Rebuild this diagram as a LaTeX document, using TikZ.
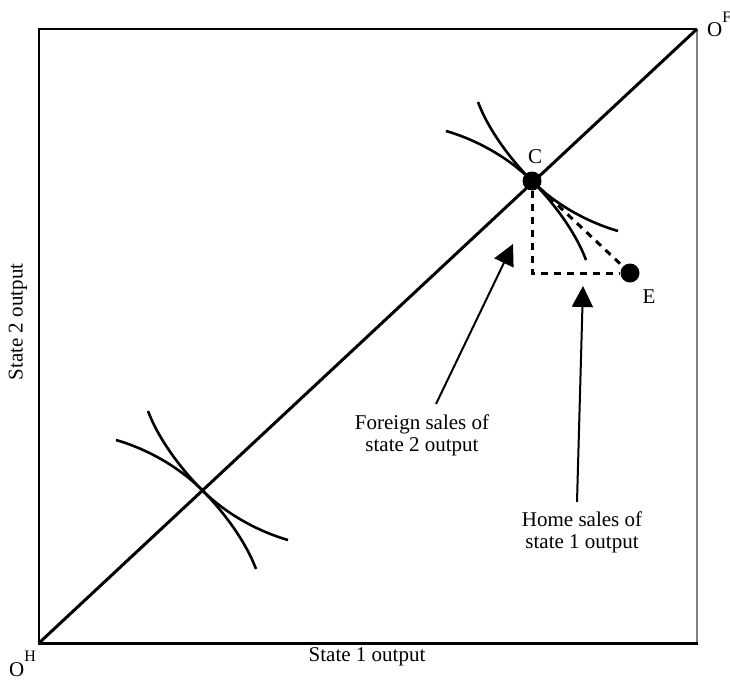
\documentclass[tikz,border=0pt]{standalone}
\usepackage{fontspec}
\setmainfont{Liberation Serif}
\usetikzlibrary{arrows.meta,calc}
\begin{document}
\begin{tikzpicture}[x=1pt,y=-1pt,
  txt/.style={inner sep=0pt,font=\fontsize{21}{22}\selectfont,align=center},
  dot/.style={circle,fill=black,inner sep=0pt,minimum size=19pt},
  curve/.style={line width=2.6pt},
  dashline/.style={line width=3pt,dash pattern=on 7pt off 6pt},
  pointer/.style={line width=2pt,-{Triangle[length=21pt,width=21pt]}}]
\useasboundingbox (0,0) rectangle (730,682);
% frame
\draw[line width=1.3pt] (39,643) -- (39,29) -- (697,29);
\draw[line width=1.5pt,gray] (697,29) -- (697,643);
\draw[line width=3pt] (38,643) -- (698,643);
% diagonal
\coordinate (OH) at (39,643);
\coordinate (OF) at (697,29);
\draw[line width=3pt] (OH) -- (OF);
% tangency points
\coordinate (L) at (202,490);
\coordinate (C0) at (532,181);
\foreach \p in {L,C0}{
  \draw[curve] ($(\p)+(-54,-79)$) .. controls ($(\p)+(-44,-52)$) and ($(\p)+(-22,-22)$) .. (\p)
     .. controls ($(\p)+(25,25)$) and ($(\p)+(58,42)$) .. ($(\p)+(86,50)$);
  \draw[curve] ($(\p)+(-86,-50)$) .. controls ($(\p)+(-58,-42)$) and ($(\p)+(-25,-25)$) .. (\p)
     .. controls ($(\p)+(22,22)$) and ($(\p)+(44,52)$) .. ($(\p)+(54,79)$);
}
% points C and E
\node[dot] (C) at (C0) {};
\node[dot] (E) at (630,273) {};
\coordinate (K) at (532,273);
\draw[dashline] (C) -- (K) -- (E);
\draw[dashline] (C) -- (E);
\node[txt] (Clab) at (535,157) {C};
\node[txt] (Elab) at (649,297) {E};
% labels and pointers
\node[txt] (fs) at (422,435) {Foreign sales of\\state 2 output};
\node[txt] (hs) at (582,532) {Home sales of\\state 1 output};
\coordinate (fsT) at (436,404);
\coordinate (fsH) at (513,244);
\coordinate (hsT) at (577,502);
\coordinate (hsH) at (583,286);
\draw[pointer] (fsT) -- (fsH);
\draw[pointer] (hsT) -- (hsH);
% axis labels
\node[txt] (x1) at (367,657) {State 1 output};
\node[txt,rotate=90] (x2) at (18,322) {State 2 output};
\node[txt,anchor=base west] (ofl) at (707,37) {O\raisebox{14pt}{\fontsize{16}{16}\selectfont F}};
\node[txt,anchor=base west] (ohl) at (9,676) {O\raisebox{15pt}{\fontsize{16}{16}\selectfont H}};
\end{tikzpicture}
\end{document}
